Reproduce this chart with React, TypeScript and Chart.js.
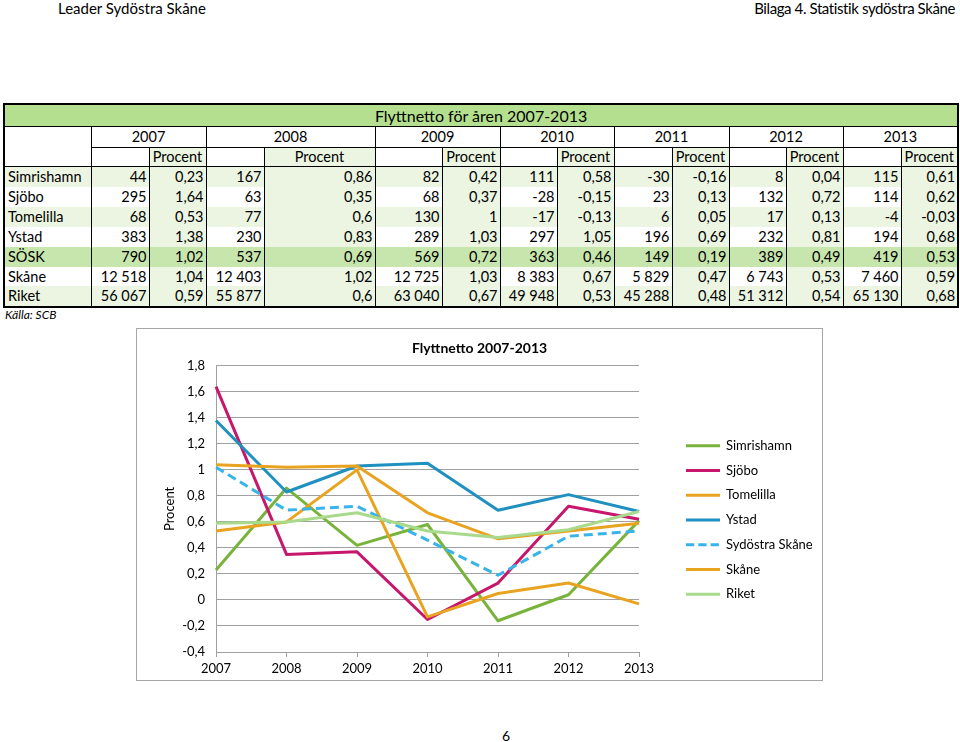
import React, { useEffect, useRef } from "react";
import { Chart, registerables } from "chart.js";

Chart.register(...registerables);

// ---------- data ----------
const years = ["2007", "2008", "2009", "2010", "2011", "2012", "2013"];

const seriesLabels = ["Simrishamn", "Sjöbo", "Tomelilla", "Ystad", "Sydöstra Skåne", "Skåne", "Riket"];
const tableRowLabels = ["Simrishamn", "Sjöbo", "Tomelilla", "Ystad", "SÖSK", "Skåne", "Riket"];

const pctSimrishamn = [0.23, 0.86, 0.42, 0.58, -0.16, 0.04, 0.61];
const pctSjobo = [1.64, 0.35, 0.37, -0.15, 0.13, 0.72, 0.62];
const pctTomelilla = [0.53, 0.6, 1, -0.13, 0.05, 0.13, -0.03];
const pctYstad = [1.38, 0.83, 1.03, 1.05, 0.69, 0.81, 0.68];
const pctSosk = [1.02, 0.69, 0.72, 0.46, 0.19, 0.49, 0.53];
const pctSkane = [1.04, 1.02, 1.03, 0.67, 0.47, 0.53, 0.59];
const pctRiket = [0.59, 0.6, 0.67, 0.53, 0.48, 0.54, 0.68];
const pctSeries = [pctSimrishamn, pctSjobo, pctTomelilla, pctYstad, pctSosk, pctSkane, pctRiket];

const cntSimrishamn = [44, 167, 82, 111, -30, 8, 115];
const cntSjobo = [295, 63, 68, -28, 23, 132, 114];
const cntTomelilla = [68, 77, 130, -17, 6, 17, -4];
const cntYstad = [383, 230, 289, 297, 196, 232, 194];
const cntSosk = [790, 537, 569, 363, 149, 389, 419];
const cntSkane = [12518, 12403, 12725, 8383, 5829, 6743, 7460];
const cntRiket = [56067, 55877, 63040, 49948, 45288, 51312, 65130];
const cntSeries = [cntSimrishamn, cntSjobo, cntTomelilla, cntYstad, cntSosk, cntSkane, cntRiket];

const yTickMin = -0.4;
const yTickMax = 1.8;
const yTickStep = 0.2;

// ---------- styles ----------
const seriesColors = ["#78b43c", "#c7176c", "#e8a320", "#1f90bf", "#38b4ea", "#e8a320", "#a9da8c"];
const seriesDash: number[][] = [[], [], [], [], [9, 5], [], []];
const FONT = "Lato, 'Open Sans', sans-serif";

const fmtPct = (v: number) => String(v).replace(".", ",");
const fmtCnt = (n: number) => {
  const s = String(Math.abs(n)).replace(/\B(?=(\d{3})+(?!\d))/g, " ");
  return (n < 0 ? "-" : "") + s;
};
const fmtTick = (v: number) => {
  let r = Math.round(v * 10) / 10;
  if (Math.abs(r) < 1e-9) r = 0;
  return String(r).replace(".", ",");
};

function LineChart() {
  const canvasRef = useRef<HTMLCanvasElement>(null);
  useEffect(() => {
    const canvas = canvasRef.current;
    if (!canvas) return;
    const tickFont = { family: FONT, size: 13 };
    const legendPlugin = {
      id: "sideLegend",
      afterDraw(chart: any) {
        const ctx = chart.ctx as CanvasRenderingContext2D;
        ctx.save();
        chart.data.datasets.forEach((ds: any, i: number) => {
          const y = 117.7 + i * 24.75;
          ctx.strokeStyle = ds.borderColor;
          ctx.lineWidth = 3;
          ctx.setLineDash(ds.borderDash && ds.borderDash.length ? [8.3, 4] : []);
          ctx.beginPath();
          ctx.moveTo(550, y);
          ctx.lineTo(584, y);
          ctx.stroke();
          ctx.setLineDash([]);
          ctx.fillStyle = "#000";
          ctx.font = `13px ${FONT}`;
          ctx.textBaseline = "middle";
          ctx.textAlign = "left";
          ctx.fillText(ds.label, 590, y);
        });
        ctx.restore();
      },
    };
    const chart = new Chart(canvas, {
      type: "line",
      data: {
        labels: years,
        datasets: seriesLabels.map((label, i) => ({
          label,
          data: pctSeries[i],
          borderColor: seriesColors[i],
          backgroundColor: seriesColors[i],
          borderWidth: 3,
          borderDash: seriesDash[i],
          borderJoinStyle: "round" as const,
          pointRadius: 0,
          pointHoverRadius: 0,
          tension: 0,
          fill: false,
          order: seriesLabels.length - i,
        })),
      },
      options: {
        responsive: false,
        animation: false,
        events: [],
        layout: { padding: 0 },
        plugins: {
          legend: { display: false },
          tooltip: { enabled: false },
          title: {
            display: true,
            text: "Flyttnetto 2007-2013",
            color: "#000",
            font: { family: FONT, size: 14, weight: "bold" },
            padding: { top: 12, bottom: 9 },
          },
        },
        scales: {
          x: {
            type: "category",
            offset: false,
            grid: { display: true, drawOnChartArea: false, drawTicks: true, tickLength: 5, color: "#a0a0a0" },
            border: { display: true, color: "#a0a0a0", width: 1 },
            ticks: { color: "#000", font: tickFont, padding: 4, maxRotation: 0, autoSkip: false },
            afterFit: (s: any) => {
              s.height = 29;
            },
          },
          y: {
            min: yTickMin,
            max: yTickMax,
            ticks: {
              stepSize: yTickStep,
              color: "#000",
              font: tickFont,
              padding: 11,
              callback: (v: any) => fmtTick(Number(v)),
            },
            grid: { color: "#a0a0a0", drawTicks: false },
            border: { display: true, color: "#a0a0a0" },
            title: {
              display: true,
              text: "Procent",
              color: "#000",
              font: tickFont,
              padding: { top: 26, bottom: 0 },
            },
            afterFit: (s: any) => {
              s.width = 80;
            },
          },
          yRight: {
            position: "right",
            display: true,
            min: yTickMin,
            max: yTickMax,
            grid: { display: false, drawTicks: false },
            border: { display: false },
            ticks: { display: false },
            afterFit: (s: any) => {
              s.width = 184;
            },
          },
        },
      } as any,
      plugins: [legendPlugin],
    });
    return () => chart.destroy();
  }, []);
  return (
    <canvas
      ref={canvasRef}
      width={687}
      height={353}
      style={{ position: "absolute", left: 136, top: 328, width: 687, height: 353 }}
    />
  );
}

const colWidths = [87, 58, 57, 58, 111, 67, 58, 57, 57, 58, 57, 57, 57, 58, 57];
const GREEN_TITLE = "#b3df8e";
const GREEN_LIGHT = "#ebf5e1";
const GREEN_MID = "#c7e6ad";
const LINE = "1px solid #000";

function DataTable() {
  const cellBase: React.CSSProperties = {
    padding: "0 2px",
    whiteSpace: "nowrap",
    overflow: "hidden",
    boxSizing: "border-box",
  };
  const h = (px: number): React.CSSProperties => ({ height: px, lineHeight: `${px}px` });
  const T = 21;
  const Y = 20;
  const P = 18;
  const D = 19.9;
  return (
    <table
      style={{
        position: "absolute",
        left: 3,
        top: 103,
        width: 954,
        tableLayout: "fixed",
        borderCollapse: "collapse",
        border: "2px solid #000",
        fontFamily: FONT,
        fontSize: 14.5,
        color: "#000",
      }}
    >
      <colgroup>
        {colWidths.map((w, i) => (
          <col key={i} style={{ width: w }} />
        ))}
      </colgroup>
      <tbody>
        <tr>
          <td
            colSpan={15}
            style={{
              ...cellBase,
              ...h(T),
              background: GREEN_TITLE,
              textAlign: "center",
              fontSize: 16,
              borderBottom: LINE,
            }}
          >
            Flyttnetto för åren 2007-2013
          </td>
        </tr>
        <tr>
          <td rowSpan={2} style={{ ...cellBase, borderRight: LINE, borderBottom: LINE, background: "#fff" }} />
          {years.map((y) => (
            <td
              key={y}
              colSpan={2}
              style={{ ...cellBase, ...h(Y), textAlign: "center", borderRight: LINE, borderBottom: LINE, background: "#fff" }}
            >
              {y}
            </td>
          ))}
        </tr>
        <tr>
          {years.map((y) => (
            <React.Fragment key={y}>
              <td style={{ ...cellBase, ...h(P), borderRight: LINE, borderBottom: LINE, background: "#fff" }} />
              <td
                style={{
                  ...cellBase,
                  ...h(P),
                  textAlign: "center",
                  borderRight: LINE,
                  borderBottom: LINE,
                  background: GREEN_LIGHT,
                }}
              >
                Procent
              </td>
            </React.Fragment>
          ))}
        </tr>
        {tableRowLabels.map((name, r) => {
          const rowBg = r === 4 ? GREEN_MID : r % 2 === 0 ? GREEN_LIGHT : "#fff";
          const pctBg = r === 4 ? GREEN_MID : GREEN_LIGHT;
          return (
            <tr key={name}>
              <td style={{ ...cellBase, ...h(D), paddingLeft: 3, textAlign: "left", borderRight: LINE, background: rowBg }}>
                {name}
              </td>
              {years.map((y, c) => (
                <React.Fragment key={y}>
                  <td style={{ ...cellBase, ...h(D), textAlign: "right", borderRight: LINE, background: rowBg }}>
                    {fmtCnt(cntSeries[r][c])}
                  </td>
                  <td style={{ ...cellBase, ...h(D), textAlign: "right", borderRight: LINE, background: pctBg }}>
                    {fmtPct(pctSeries[r][c])}
                  </td>
                </React.Fragment>
              ))}
            </tr>
          );
        })}
      </tbody>
    </table>
  );
}

export default function App() {
  return (
    <div
      style={{
        position: "absolute",
        left: 0,
        top: 0,
        width: 960,
        height: 742,
        fontFamily: FONT,
        color: "#000",
        background: "#fff",
      }}
    >
      <div style={{ position: "absolute", left: 58, top: -2, fontSize: 15, lineHeight: "20px", whiteSpace: "nowrap" }}>
        Leader Sydöstra Skåne
      </div>
      <div
        style={{
          position: "absolute",
          right: 5,
          top: -2,
          fontSize: 15,
          letterSpacing: -0.4,
          lineHeight: "20px",
          whiteSpace: "nowrap",
        }}
      >
        Bilaga 4. Statistik sydöstra Skåne
      </div>
      <DataTable />
      <div
        style={{
          position: "absolute",
          left: 5,
          top: 307,
          fontSize: 12,
          lineHeight: "16px",
          fontStyle: "italic",
          whiteSpace: "nowrap",
        }}
      >
        Källa: SCB
      </div>
      <div
        style={{
          position: "absolute",
          left: 136,
          top: 328,
          width: 687,
          height: 353,
          boxSizing: "border-box",
          border: "1px solid #a6a6a6",
        }}
      />
      <LineChart />
      <div style={{ position: "absolute", left: 502, top: 727, fontSize: 14, lineHeight: "18px" }}>6</div>
    </div>
  );
}
